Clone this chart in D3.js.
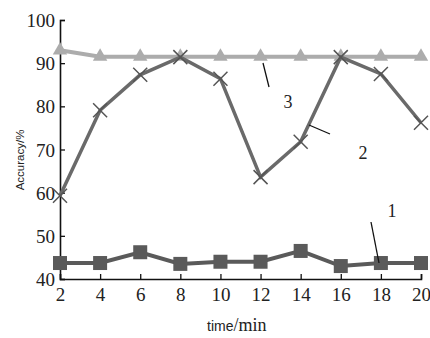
<!DOCTYPE html>
<html>
<head>
<meta charset="utf-8">
<script src="https://cdn.jsdelivr.net/npm/d3@7"></script>
<style>
  body { margin: 0; background: #fff; }
  svg { display: block; }
  .serif { font-family: "Liberation Serif", "DejaVu Serif", serif; }
  .sans { font-family: "Liberation Sans", "DejaVu Sans", sans-serif; }
</style>
</head>
<body>
<div id="chartArea"></div>
<script>
// Data
const times = [2, 4, 6, 8, 10, 12, 14, 16, 18, 20];
const series1 = [43.7, 43.7, 46.2, 43.5, 44, 44, 46.5, 43, 43.7, 43.7];
const series2 = [59.3, 79.1, 87.3, 91.4, 86.4, 63.6, 71.8, 91.4, 87.5, 76.2];
const series3 = [93, 91.5, 91.5, 91.5, 91.5, 91.5, 91.5, 91.5, 91.5, 91.5];
const yTicks = [40, 50, 60, 70, 80, 90, 100];
const xTicks = times;

const width = 430,
    height = 338,
    margin = { top: 20, left: 60, bottom: 59, right: 9 };

const x = d3.scaleLinear()
    .domain([2, 20])
    .range([margin.left, width - margin.right]);

const y = d3.scaleLinear()
    .domain([40, 100])
    .range([height - margin.bottom, margin.top]);

const svg = d3.select("#chartArea")
    .append("svg")
    .attr("width", width)
    .attr("height", height);

// Axes
const yAxis = svg.append("g")
    .attr("transform", `translate(${margin.left},0)`)
    .call(d3.axisLeft(y).tickValues(yTicks).tickSize(-5).tickPadding(5));

const xAxis = svg.append("g")
    .attr("transform", `translate(0,${height - margin.bottom})`)
    .call(d3.axisBottom(x).tickValues(xTicks).tickSize(-5).tickPadding(9));

[yAxis, xAxis].forEach(a => {
    a.attr("font-family", null).attr("font-size", null);
    a.select(".domain").attr("stroke", "#111").attr("stroke-width", 1.6);
    a.selectAll(".tick line").attr("stroke", "#111").attr("stroke-width", 1.3);
    a.selectAll(".tick text")
        .attr("class", "serif")
        .attr("fill", "#222")
        .attr("font-size", 19);
});
yAxis.selectAll(".tick text").attr("dy", "0.35em");

// Lines
const line = d3.line()
    .x((d, i) => x(times[i]))
    .y(d => y(d));

// series 3 (triangles)
svg.append("path")
    .datum(series3)
    .attr("d", line)
    .attr("fill", "none")
    .attr("stroke", "#acacac")
    .attr("stroke-width", 4);

svg.append("g")
    .selectAll("path")
    .data(series3)
    .join("path")
    .attr("transform", (d, i) => `translate(${x(times[i])},${y(d)})`)
    .attr("d", d3.symbol().type(d3.symbolTriangle).size(90))
    .attr("fill", "#acacac");

// series 2 (crosses)
svg.append("path")
    .datum(series2)
    .attr("d", line)
    .attr("fill", "none")
    .attr("stroke", "#6a6a6a")
    .attr("stroke-width", 3.5);

svg.append("g")
    .selectAll("path")
    .data(series2)
    .join("path")
    .attr("transform", (d, i) => `translate(${x(times[i])},${y(d)})`)
    .attr("d", "M-7,-7L7,7M-7,7L7,-7")
    .attr("stroke", "#555")
    .attr("stroke-width", 1.5);

// series 1 (squares)
svg.append("path")
    .datum(series1)
    .attr("d", line)
    .attr("fill", "none")
    .attr("stroke", "#5a5a5a")
    .attr("stroke-width", 4);

svg.append("g")
    .selectAll("rect")
    .data(series1)
    .join("rect")
    .attr("x", (d, i) => x(times[i]) - 7)
    .attr("y", d => y(d) - 7)
    .attr("width", 14)
    .attr("height", 14)
    .attr("fill", "#5a5a5a");

// Series labels with leader lines
const labels = [
    { text: "3", tx: 288, ty: 108, x1: 263, y1: 63, x2: 269, y2: 87 },
    { text: "2", tx: 363, ty: 159, x1: 309, y1: 125, x2: 330, y2: 134 },
    { text: "1", tx: 392, ty: 217, x1: 371, y1: 222, x2: 379, y2: 263 }
];
const lab = svg.append("g");
lab.selectAll("line")
    .data(labels)
    .join("line")
    .attr("x1", d => d.x1).attr("y1", d => d.y1)
    .attr("x2", d => d.x2).attr("y2", d => d.y2)
    .attr("stroke", "#111")
    .attr("stroke-width", 1.3);
lab.selectAll("text")
    .data(labels)
    .join("text")
    .attr("class", "serif")
    .attr("x", d => d.tx)
    .attr("y", d => d.ty)
    .attr("text-anchor", "middle")
    .attr("font-size", 18)
    .attr("fill", "#222")
    .text(d => d.text);

// Axis titles
svg.append("text")
    .attr("class", "sans")
    .attr("transform", "translate(24,160) rotate(-90)")
    .attr("text-anchor", "middle")
    .attr("font-size", 11.5)
    .attr("fill", "#222")
    .text("Accuracy/%");

const xt = svg.append("text")
    .attr("x", 207)
    .attr("y", 331)
    .attr("fill", "#222");
xt.append("tspan").attr("class", "sans").attr("font-size", 14).text("time");
xt.append("tspan").attr("class", "serif").attr("font-size", 18).text("/min");
</script>
</body>
</html>
